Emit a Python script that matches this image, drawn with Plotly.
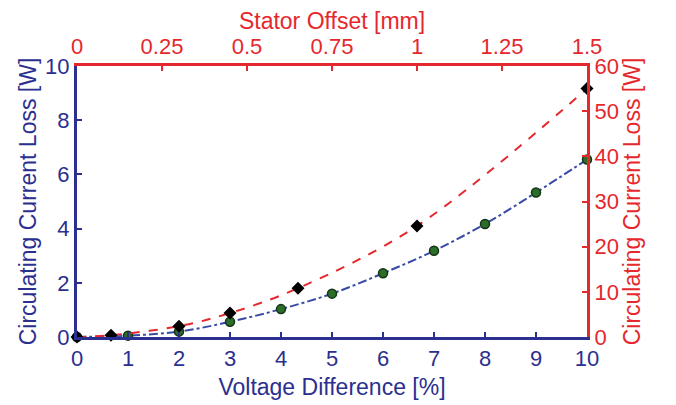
import plotly.graph_objects as go

# Bottom/left axes: voltage difference vs loss (green circles, blue dash-dot)
voltage_pct = [0, 1, 2, 3, 4, 5, 6, 7, 8, 9, 10]
loss_voltage_w = [0, 0.05, 0.2, 0.56, 1.03, 1.6, 2.35, 3.18, 4.17, 5.33, 6.55]

# Top/right axes: stator offset vs loss (black diamonds, red dashed)
offset_mm = [0, 0.1, 0.3, 0.45, 0.65, 1.0, 1.5]
loss_offset_w = [0, 0.4, 2.4, 5.3, 10.8, 24.6, 55]

x_ticks = [0, 1, 2, 3, 4, 5, 6, 7, 8, 9, 10]
y_ticks = [0, 2, 4, 6, 8, 10]
x2_ticks = [0, 0.25, 0.5, 0.75, 1, 1.25, 1.5]
x2_labels = ["0", "0.25", "0.5", "0.75", "1", "1.25", "1.5"]
y2_ticks = [0, 10, 20, 30, 40, 50, 60]

BLUE = "#2b2f8f"
RED = "#e5282d"
FONT = "Liberation Sans, Arial, sans-serif"
FS = 22
TS = 23

fig = go.Figure()
fig.add_trace(go.Scatter(
    x=voltage_pct, y=loss_voltage_w, mode="lines+markers",
    line=dict(color="#3a4aa8", width=2, dash="dashdot", shape="spline"),
    marker=dict(symbol="circle", size=9, color="#2a6e2a",
                line=dict(color="#163316", width=1.5)),
    xaxis="x", yaxis="y", showlegend=False, cliponaxis=False))
fig.add_trace(go.Scatter(
    x=offset_mm, y=loss_offset_w, mode="lines+markers",
    line=dict(color=RED, width=2, dash="dash", shape="spline"),
    marker=dict(symbol="diamond", size=10, color="black"),
    xaxis="x2", yaxis="y2", showlegend=False, cliponaxis=False))

axis_common = dict(showgrid=False, zeroline=False, showline=True, linewidth=3,
                   ticks="inside", ticklen=5, tickwidth=2, mirror=False)

fig.update_layout(
    width=668, height=397,
    margin=dict(l=69, r=89, t=58, b=68, autoexpand=False),
    paper_bgcolor="white", plot_bgcolor="white",
    font=dict(family=FONT, size=FS),
    xaxis=dict(range=[0, 10], tickvals=x_ticks, linecolor=BLUE, tickcolor=BLUE,
               tickfont=dict(color=BLUE, size=FS),
               title=dict(text="Voltage Difference [%]", font=dict(color=BLUE, size=TS), standoff=9),
               **axis_common),
    yaxis=dict(range=[0, 10], tickvals=y_ticks, linecolor=BLUE, tickcolor=BLUE,
               tickfont=dict(color=BLUE, size=FS),
               title=dict(text="Circulating Current Loss [W]", font=dict(color=BLUE, size=TS), standoff=3),
               **axis_common),
    xaxis2=dict(range=[0, 1.5], tickvals=x2_ticks, ticktext=x2_labels, overlaying="x",
                side="top", anchor="y2", linecolor=RED, tickcolor=RED,
                tickfont=dict(color=RED, size=FS),
                title=dict(text="Stator Offset [mm]", font=dict(color=RED, size=TS), standoff=2),
                **axis_common),
    yaxis2=dict(range=[0, 60], tickvals=y2_ticks, overlaying="y", side="right",
                anchor="x2", linecolor=RED, tickcolor=RED,
                tickfont=dict(color=RED, size=FS),
                title=dict(text="Circulating Current Loss [W]", font=dict(color=RED, size=TS), standoff=7),
                **axis_common),
)

fig.write_html("out.html")
